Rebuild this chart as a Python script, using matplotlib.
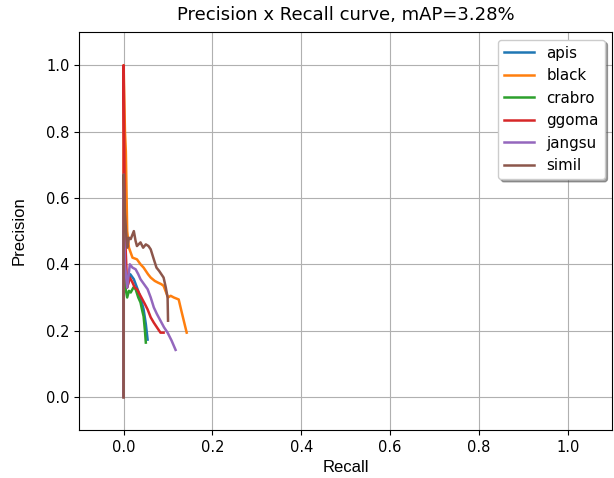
import matplotlib
matplotlib.use('Agg')
import matplotlib.pyplot as plt

# recall / precision points
apis_r = [0.0, 0.0, 0.003, 0.008, 0.015, 0.023, 0.030, 0.034, 0.040, 0.045, 0.050, 0.054]
apis_p = [0.0, 0.60, 0.40, 0.33, 0.37, 0.355, 0.33, 0.315, 0.29, 0.264, 0.22, 0.173]

black_r = [0.0, 0.0, 0.003, 0.005, 0.008, 0.012, 0.020, 0.030, 0.038, 0.045, 0.055, 0.061, 0.070,
           0.077, 0.085, 0.090, 0.100, 0.106, 0.113, 0.124, 0.130, 0.142]
black_p = [0.0, 1.0, 0.80, 0.74, 0.50, 0.45, 0.42, 0.415, 0.40, 0.39, 0.37, 0.36, 0.35,
           0.345, 0.34, 0.335, 0.30, 0.305, 0.30, 0.294, 0.26, 0.194]

crabro_r = [0.0, 0.0, 0.004, 0.008, 0.012, 0.016, 0.022, 0.027, 0.033, 0.038, 0.042, 0.045, 0.048, 0.050]
crabro_p = [0.0, 0.50, 0.33, 0.30, 0.32, 0.315, 0.33, 0.325, 0.30, 0.285, 0.26, 0.243, 0.20, 0.164]

ggoma_r = [0.0, 0.0, 0.003, 0.008, 0.014, 0.020, 0.025, 0.030, 0.036, 0.042, 0.048, 0.054, 0.061,
           0.068, 0.075, 0.083, 0.090]
ggoma_p = [0.0, 1.0, 0.50, 0.33, 0.36, 0.345, 0.33, 0.325, 0.31, 0.295, 0.28, 0.264, 0.24,
           0.224, 0.21, 0.194, 0.194]

jangsu_r = [0.0, 0.0, 0.003, 0.008, 0.014, 0.020, 0.027, 0.033, 0.038, 0.046, 0.054, 0.061, 0.068,
            0.075, 0.083, 0.091, 0.099, 0.108, 0.117]
jangsu_p = [0.0, 0.67, 0.40, 0.33, 0.40, 0.39, 0.385, 0.37, 0.355, 0.34, 0.325, 0.30, 0.27,
            0.25, 0.23, 0.21, 0.194, 0.17, 0.142]

simil_r = [0.0, 0.0, 0.003, 0.008, 0.012, 0.016, 0.023, 0.027, 0.030, 0.038, 0.044, 0.050, 0.056,
           0.061, 0.068, 0.074, 0.080, 0.090, 0.095, 0.099, 0.100]
simil_p = [0.0, 0.67, 0.55, 0.45, 0.48, 0.476, 0.50, 0.47, 0.455, 0.466, 0.45, 0.46, 0.455,
           0.445, 0.415, 0.39, 0.38, 0.36, 0.33, 0.30, 0.23]

classes = ['apis', 'black', 'crabro', 'ggoma', 'jangsu', 'simil']
recalls = [apis_r, black_r, crabro_r, ggoma_r, jangsu_r, simil_r]
precisions = [apis_p, black_p, crabro_p, ggoma_p, jangsu_p, simil_p]
mAP = 3.28

fig = plt.figure(figsize=(6.14, 4.78), dpi=100)
ax = fig.add_axes([0.129, 0.100, 0.868, 0.833])
for name, rec, prec in zip(classes, recalls, precisions):
    ax.plot(rec, prec, label=name, lw=1.8)

ax.set_xlim(-0.1, 1.1)
ax.set_ylim(-0.1, 1.1)
ax.set_xlabel('Recall', family='Liberation Sans', fontsize=12)
ax.set_ylabel('Precision', family='Liberation Sans', fontsize=12, labelpad=14)
ax.set_title('Precision x Recall curve, mAP=%.2f%%' % mAP, fontsize=13, pad=9)
ax.tick_params(labelsize=10.5)
ax.legend(shadow=True, loc='upper right', fontsize=10.8)
ax.grid()

fig.savefig('out.png', dpi=100)
